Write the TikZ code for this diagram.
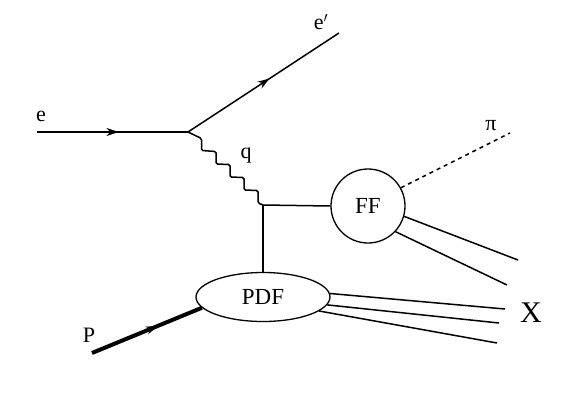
\documentclass[tikz,border=0pt]{standalone}
\usepackage{fontspec}
\setmainfont{Liberation Serif}
\usetikzlibrary{shapes.geometric,arrows.meta,decorations.markings}
\begin{document}
\begin{tikzpicture}[x=1pt,y=-1pt,
  line/.style={line width=1.5pt},
  midarrow/.style={postaction={decorate},decoration={markings,
     mark=at position #1 with {\arrow{Stealth[length=12pt,width=8pt]}}}},
  lbl/.style={font=\fontsize{22}{22}\selectfont, inner sep=0pt},
  blob/.style={draw, line width=1.3pt, inner sep=0pt, font=\fontsize{23}{23}\selectfont}]
\useasboundingbox (0,0) rectangle (576,405);
% vertices
\coordinate (ein) at (37,132);
\coordinate (v1) at (188,132);
\coordinate (eout) at (339,33);
\coordinate (v2) at (263,205);
\coordinate (pin) at (92,353);
\coordinate (piend) at (510,133);
\coordinate (f1) at (518,260);
\coordinate (f2) at (507,285);
\coordinate (x1) at (505,309);
\coordinate (x2) at (499,323);
\coordinate (x3) at (497,343);
% blobs
\node[blob, circle, minimum size=74pt] (ff) at (368,206) {FF};
\node[blob, ellipse, minimum width=134pt, minimum height=49pt] (pdf) at (263,297) {PDF};
% electron lines
\draw[line, midarrow=0.54] (ein) -- (v1);
\draw[line, midarrow=0.54] (v1) -- (eout);
% photon
\draw[line, rounded corners=1.5pt] (v1) -- (201.5,138.5) -- (201.5,150.5) -- (216,151.5) -- (216,164)
  -- (230,164.5) -- (230,177) -- (244,177.5) -- (244,190) -- (258,190.5) -- (258,203) -- (v2);
% quark lines
\draw[line] (v2) -- (ff.180);
\draw[line] (v2) -- (pdf.north);
% pion
\draw[line, dash pattern=on 4pt off 4pt] (ff.29) -- (piend);
% fragments
\draw[line] (ff.-16) -- (f1);
\draw[line] (ff.-43) -- (f2);
\draw[line] (pdf.3) -- (x1);
\draw[line] (pdf.-7) -- (x2);
\draw[line] (pdf.-14) -- (x3);
% proton
\draw[line width=4pt, midarrow=0.6] (pin) -- (pdf.190);
% labels
\node[lbl] (le) at (41,116) {e};
\node[lbl] (lep) at (321,22) {e$'$};
\node[lbl] (lq) at (246,156) {q};
\node[lbl] (lpi) at (491,126) {π};
\node[lbl] (lP) at (89,335) {P};
\node[lbl, font=\fontsize{30}{30}\selectfont] (lX) at (531,313) {X};
\end{tikzpicture}
\end{document}
